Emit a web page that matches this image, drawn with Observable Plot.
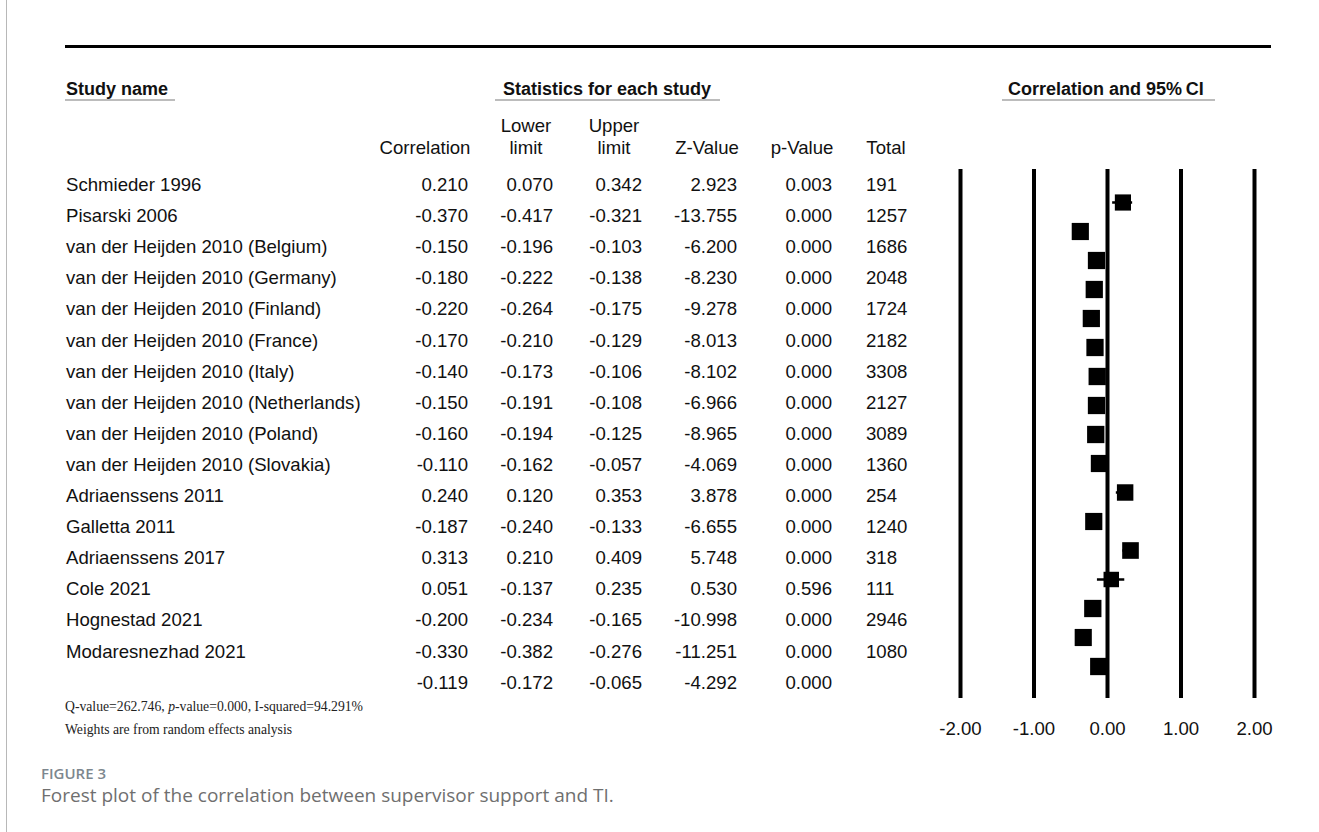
<!DOCTYPE html>
<html>
<head>
<meta charset="utf-8">
<script src="https://cdn.jsdelivr.net/npm/d3@7"></script>
<script src="https://cdn.jsdelivr.net/npm/@observablehq/plot@0.6"></script>
<style>
  html, body { margin: 0; padding: 0; background: #fff; }
  #page { position: relative; width: 1319px; height: 832px; overflow: hidden;
          font-family: "Liberation Sans", Arial, sans-serif; color: #111; }
  #page > svg { position: absolute; left: 0; top: 0; }
  .border { position: absolute; left: 6px; top: 0; bottom: 0; border-left: 1px solid #b8b8b8; }
  .topline { position: absolute; left: 65px; width: 1206px; top: 45px; height: 3px; background: #000; }
  .cell { position: absolute; font-size: 18.6px; line-height: 20px; white-space: nowrap; }
  .ra { text-align: right; width: 160px; }
  .ca { text-align: center; width: 160px; }
  .grp { position: absolute; font-weight: bold; font-size: 18px; line-height: 20px; white-space: nowrap; }
  .uline { position: absolute; height: 2px; background: #bcbcbc; }
  .foot { position: absolute; font-family: "Liberation Serif", "Times New Roman", serif; font-size: 13.7px;
          line-height: 16px; color: #222; white-space: nowrap; }
  .figlabel { position: absolute; left: 41px; font-family: "Open Sans", sans-serif; font-weight: 600;
              font-size: 15px; line-height: 20px; color: #7d878e; }
  .caption { position: absolute; left: 41px; font-family: "Open Sans", sans-serif; font-size: 19px;
             line-height: 24px; color: #6f6f6f; white-space: nowrap; }
</style>
</head>
<body>
<div id="page"></div>
<script>
// ---------------- data ----------------
const studies = [
  "Schmieder 1996",
  "Pisarski 2006",
  "van der Heijden 2010 (Belgium)",
  "van der Heijden 2010 (Germany)",
  "van der Heijden 2010 (Finland)",
  "van der Heijden 2010 (France)",
  "van der Heijden 2010 (Italy)",
  "van der Heijden 2010 (Netherlands)",
  "van der Heijden 2010 (Poland)",
  "van der Heijden 2010 (Slovakia)",
  "Adriaenssens 2011",
  "Galletta 2011",
  "Adriaenssens 2017",
  "Cole 2021",
  "Hognestad 2021",
  "Modaresnezhad 2021"
];
const correlation = [0.210, -0.370, -0.150, -0.180, -0.220, -0.170, -0.140, -0.150, -0.160, -0.110, 0.240, -0.187, 0.313, 0.051, -0.200, -0.330];
const lowerLimit  = [0.070, -0.417, -0.196, -0.222, -0.264, -0.210, -0.173, -0.191, -0.194, -0.162, 0.120, -0.240, 0.210, -0.137, -0.234, -0.382];
const upperLimit  = [0.342, -0.321, -0.103, -0.138, -0.175, -0.129, -0.106, -0.108, -0.125, -0.057, 0.353, -0.133, 0.409, 0.235, -0.165, -0.276];
const zValue      = [2.923, -13.755, -6.200, -8.230, -9.278, -8.013, -8.102, -6.966, -8.965, -4.069, 3.878, -6.655, 5.748, 0.530, -10.998, -11.251];
const pValue      = [0.003, 0.000, 0.000, 0.000, 0.000, 0.000, 0.000, 0.000, 0.000, 0.000, 0.000, 0.000, 0.000, 0.596, 0.000, 0.000];
const total       = [191, 1257, 1686, 2048, 1724, 2182, 3308, 2127, 3089, 1360, 254, 1240, 318, 111, 2946, 1080];

// pooled (random effects) row: correlation, lower, upper, z, p
const summaryStats = [-0.119, -0.172, -0.065, -4.292, 0.000];
const heterogeneity = { Q: "262.746", p: "0.000", I2: "94.291%" };
const axisTicks = [-2, -1, 0, 1, 2];
const tau2 = 0.035; // between-study variance used for random-effects weights (square areas)

// ---------------- table rows ----------------
const rows = studies.map((s, i) => ({
  key: s, name: s, r: correlation[i], lo: lowerLimit[i], hi: upperLimit[i],
  z: zValue[i], p: pValue[i], n: total[i],
  w: 1 / (1 / (total[i] - 3) + tau2)
}));
const wMax = d3.max(rows, d => d.w);
rows.push({ key: "__summary__", name: "", r: summaryStats[0], lo: summaryStats[1], hi: summaryStats[2],
            z: summaryStats[3], p: summaryStats[4], n: null, w: wMax });

// ---------------- layout ----------------
const rowTop = 185, rowStep = 31.1;
const rowY = i => rowTop + rowStep * i;
const yRange = [rowY(0), rowY(rows.length - 1)];

const page = document.getElementById("page");

// forest plot (Observable Plot)
const chart = Plot.plot({
  width: 1319,
  height: 745,
  marginTop: 169,
  marginBottom: 47,
  marginLeft: 960,
  marginRight: 65,
  style: { background: "transparent", fontFamily: "Liberation Sans, Arial, sans-serif", fontSize: "18.6px", color: "#111" },
  x: { domain: [-2, 2] },
  y: { type: "point", domain: rows.map(d => d.key), range: yRange, axis: null },
  r: { type: "sqrt", domain: [0, wMax], range: [0, 17.3 / Math.sqrt(Math.PI)] },
  marks: [
    Plot.ruleX(axisTicks, { stroke: "#000", strokeWidth: 4 }),
    Plot.ruleY(rows, { y: "key", x1: "lo", x2: "hi", stroke: "#000", strokeWidth: 2.5 }),
    Plot.dot(rows, { x: "r", y: "key", r: "w", symbol: "square", fill: "#000", stroke: "none" }),
    Plot.axisX({ ticks: axisTicks, tickFormat: d => d.toFixed(2), tickSize: 0, tickPadding: 23,
                 label: null, fontSize: 18.6 })
  ]
});
page.appendChild(chart);

function el(cls, text, style) {
  const d = document.createElement("div");
  d.className = cls;
  if (text != null) d.innerHTML = text;
  Object.assign(d.style, style);
  page.appendChild(d);
  return d;
}

el("border", null, {});
el("topline", null, {});

// group headers
el("grp", "Study name", { left: "66px", top: "79px" });
el("uline", null, { left: "65px", width: "110px", top: "98.5px" });
el("grp", "Statistics for each study", { left: "503px", top: "79px" });
el("uline", null, { left: "495px", width: "225px", top: "98.5px" });
el("grp", "Correlation and 95%\u2009CI", { left: "1008px", top: "79px" });
el("uline", null, { left: "1002px", width: "213px", top: "98.5px" });

// column headers (centres)
const headerCenters = { r: 425, lo: 526, hi: 614, z: 707, p: 802, n: 886 };
const headers = { r: ["", "Correlation"], lo: ["Lower", "limit"], hi: ["Upper", "limit"],
                  z: ["", "Z-Value"], p: ["", "p-Value"], n: ["", "Total"] };
for (const k of Object.keys(headers)) {
  const [l1, l2] = headers[k];
  const c = headerCenters[k];
  if (l1) el("cell ca", l1, { left: (c - 80) + "px", top: (126 - 10) + "px" });
  el("cell ca", l2, { left: (c - 80) + "px", top: (148 - 10) + "px" });
}

// column anchors (right edges for numbers, left edge for totals)
const rightEdge = { r: 468, lo: 553, hi: 642, z: 737, p: 832 };
const totalLeft = 866, nameLeft = 66;
rows.forEach((d, i) => {
  const top = (rowY(i) - 10) + "px";
  if (d.name) el("cell", d.name, { left: nameLeft + "px", top });
  for (const k of ["r", "lo", "hi", "z", "p"]) {
    el("cell ra", d[k].toFixed(3), { left: (rightEdge[k] - 160) + "px", top });
  }
  if (d.n != null) el("cell", String(d.n), { left: totalLeft + "px", top });
});

// footnotes
el("foot", `Q-value=${heterogeneity.Q}, <i>p</i>-value=${heterogeneity.p}, I-squared=${heterogeneity.I2}`,
   { left: "65px", top: "699px" });
el("foot", "Weights are from random effects analysis", { left: "65px", top: "722px" });

// figure caption
el("figlabel", "FIGURE 3", { top: "762.5px" });
el("caption", "Forest plot of the correlation between supervisor support and TI.", { top: "783px" });
</script>
</body>
</html>
